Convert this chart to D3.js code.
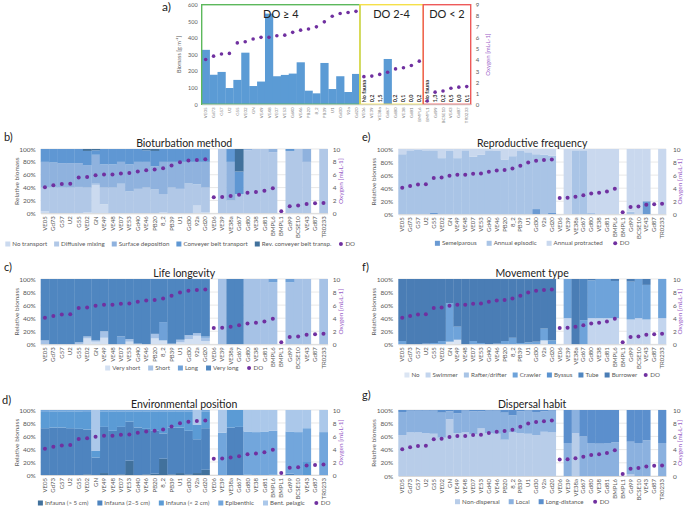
<!DOCTYPE html>
<html><head><meta charset="utf-8">
<script src="https://cdn.jsdelivr.net/npm/d3@7"></script>
<style>body{margin:0;background:#fff}svg{display:block}text{font-family:Lato,"Open Sans",sans-serif}</style>
</head><body><svg id="chart" width="685" height="508"></svg>
<script>
// ---------------- DATA ----------------
const stations = ["VE05","Gd73","G57","U2","G55","VE02","GN","VE49","VE48","VE07","VE53","Gd40","VE46","PB20","8_2","PB39","U1","Gd30","92a","Gd20",
  "VE06","VE39","VE38a","Gd67","Gd80","VE38","Gd81","BMPL6",
  "BMPL1","Gd99","BCSE10","VE43","Gd87","TR0233"];
const dissolvedO2 = [4.05,4.35,4.55,4.6,5.55,5.65,5.9,6.05,6.05,6.2,6.25,6.5,6.7,6.8,7.0,7.45,7.95,8.2,8.3,8.4,
  2.5,2.55,2.7,2.9,3.2,3.3,3.5,3.9, 0.3,1.1,1.2,1.45,1.55,1.6];
const biomass = [328,178,195,98,147,311,110,137,546,169,177,185,253,82,66,249,92,169,74,183,
  0,0.2,1.5,273,0.2,0.1,0.0,0.2, 0,1.3,0.2,0.5,0.0,0.1];
const biomassNote = ["","","","","","","","","","","","","","","","","","","","",
  "No fauna","0,2","1,5","","0,2","0,1","0,0","0,2","No fauna","1,3","0,2","0,5","0,0","0,1"];
const doGroups = ["DO \u2265 4","DO 2-4","DO < 2"];
const groupSizes = [20,8,6];
const biomassTicks = [0,100,200,300,400,500,600];
const oxygenTicksA = [0,1,2,3,4,5,6,7,8,9];
const pctTicks = [0,20,40,60,80,100];
const oxygenTicks = [0,2,4,6,8,10];

// b) Bioturbation method
const bioturbNames = ["No transport","Diffusive mixing","Surface deposition","Conveyer belt transport","Rev. conveyer belt transp."];
const bioNoTransport = [3,0,0,0,0,2,44,14,0,0,0,0,0,0,2,0,0,0,12,2, 0,0,0,0,0,0,0,0, 0,0,0,0,0,0];
const bioDiffusive   = [37,40,40,40,41,38,2,26,40,46,34,38,40,37,28,40,38,47,33,38, 0,100,20,30,98,100,100,95, 0,97,100,80,0,100];
const bioSurface     = [40,39,38,38,37,35,45,36,36,34,42,42,40,36,50,40,42,33,35,40, 0,0,60,0,2,0,0,5, 0,0,0,20,0,0];
const bioConveyor    = [20,21,22,22,22,22,7,24,24,20,24,20,18,24,20,20,20,20,20,20, 0,0,20,35,0,0,0,0, 0,3,0,0,0,0];
const bioRevConveyor = [0,0,0,0,0,3,2,0,0,0,0,0,2,3,0,0,0,0,0,0, 0,0,0,35,0,0,0,0, 0,0,0,0,0,0];

// c) Life longevity
const lifeNames = ["Very short","Short","Long","Very long"];
const lifeVeryShort = [0,0,0,0,0,9,4,10,0,0,4,0,0,9,6,0,3,8,13,5, 0,0,0,0,0,0,0,0, 0,0,0,0,0,0];
const lifeShort     = [6,0,0,0,3,3,2,10,0,0,4,1,0,7,0,1,4,6,4,5, 0,100,0,0,100,100,100,95, 0,95,100,100,0,100];
const lifeLong      = [0,0,0,0,0,0,0,0,0,12,0,0,0,0,28,0,0,0,0,2, 0,0,0,0,0,0,0,5, 0,5,0,0,0,0];
const lifeVeryLong  = [94,100,100,100,97,88,94,80,100,88,92,99,100,84,66,99,93,86,83,88, 0,0,100,100,0,0,0,0, 0,0,0,0,0,0];

// d) Environmental position
const envNames = ["Infauna (> 5 cm)","Infauna (2\u20135 cm)","Infauna (< 2 cm)","Epibenthic","Bent. pelagic"];
const envDeep    = [0,0,0,0,0,1,0,3,0,1,22,0,1,2,25,1,3,1,3,8, 0,0,0,0,0,0,0,0, 0,0,0,0,0,0];
const envMid     = [72,73,73,72,71,69,27,71,68,73,60,73,70,66,39,72,70,67,52,64, 0,0,73,74,0,0,0,0, 0,2,0,0,0,0];
const envShallow = [25,25,25,26,27,27,10,24,30,24,16,25,27,30,34,25,25,30,22,26, 0,0,27,26,1,0,0,1, 0,0,0,20,0,0];
const envEpi     = [3,2,2,2,2,3,0,2,2,2,2,2,2,2,2,2,2,2,0,2, 0,65,0,0,66,66,67,67, 0,65,66,52,0,66];
const envPelagic = [0,0,0,0,0,0,63,0,0,0,0,0,0,0,0,0,0,0,23,0, 0,35,0,0,33,34,33,32, 0,33,34,28,0,34];

// e) Reproductive frequency
const reproNames = ["Semelparous","Annual episodic","Annual protracted"];
const reproSemel = [0,0,0,0,2,0,0,0,0,0,0,0,0,0,0,0,0,8,0,2, 0,0,0,0,0,0,0,0, 0,0,0,20,0,0];
const reproEpis  = [92,98,99,98,96,86,97,86,98,88,91,98,97,84,89,97,95,84,91,88, 0,0,98,98,2,0,0,0, 0,4,0,0,0,0];
const reproProt  = [8,2,1,2,2,14,3,14,2,12,9,2,3,16,11,3,5,8,9,10, 0,100,2,2,98,100,100,100, 0,96,100,80,0,100];

// f) Movement type
const moveNames = ["No","Swimmer","Rafter/drifter","Crawler","Byssus","Tube","Burrower"];
const moveNo      = [0,0,0,0,0,0,4,7,0,0,0,0,0,0,0,0,0,0,6,0, 0,0,0,0,0,0,0,0, 0,0,0,0,0,0];
const moveSwim    = [0,0,0,0,0,0,0,0,0,0,0,0,0,0,0,0,0,0,0,0, 0,40,0,0,40,40,40,40, 0,38,40,38,0,40];
const moveRaft    = [0,0,0,0,0,0,0,0,0,0,0,0,0,0,0,0,0,0,0,0, 0,0,0,0,0,0,0,0, 0,0,0,0,0,0];
const moveCrawl   = [5,0,0,1,2,5,59,20,0,5,2,0,1,5,10,2,3,4,18,6, 0,60,0,37,58,60,60,57, 0,58,60,53,0,60];
const moveByssus  = [0,0,0,0,0,0,0,0,0,0,0,0,0,0,0,0,0,0,0,0, 0,0,0,0,0,0,0,0, 0,0,0,0,0,0];
const moveTube    = [0,0,0,0,0,0,0,0,0,0,0,0,0,0,0,0,0,0,0,0, 0,0,0,63,0,0,0,0, 0,0,0,0,0,0];
const moveBurrow  = [95,100,100,99,98,95,37,73,100,95,98,100,99,95,90,98,97,96,76,94, 0,0,100,0,2,0,0,3, 0,4,0,9,0,0];

// g) Dispersal habit
const dispNames = ["Non-dispersal","Local","Long-distance"];
const dispNone  = [62,66,66,65,64,58,86,65,66,63,72,65,64,55,66,65,64,62,67,66, 0,0,65,0,0,0,0,0, 0,3,0,0,0,0];
const dispLocal = [35,33,33,34,35,38,12,30,33,35,26,34,35,41,26,33,35,35,31,33, 0,50,35,60,50,49,50,51, 0,49,50,54,0,50];
const dispLong  = [3,1,1,1,1,4,2,5,1,2,2,1,1,4,8,2,1,3,2,1, 0,50,0,40,50,51,50,49, 0,48,50,46,0,50];

// ---------------- DRAWING ----------------
const svg = d3.select("#chart");
const PURPLE = "#7030a0", TXT = "#595959";

// ----- Panel a -----
(function(){
  const L=201.7,R=470.7,T=4.7,B=104.3;
  const x = d3.scaleBand().domain(stations).range([L,R]).padding(0);
  const y = d3.scaleLinear().domain([0,600]).range([B,T]);
  const yo = d3.scaleLinear().domain([0,9]).range([B,T]);
  const g = svg.append("g");
  g.selectAll("rect.bar").data(stations).join("rect")
    .attr("x",d=>x(d)).attr("width",x.bandwidth()+0.3)
    .attr("y",(d,i)=>y(biomass[i])).attr("height",(d,i)=>B-y(biomass[i]))
    .attr("fill","#5b9bd5");
  const boxColors=["#5cb85c","#f5e04a","#ee5a5a"];
  let start=0;
  groupSizes.forEach((n,gi)=>{
    const x0=x(stations[start]), x1=x(stations[start+n-1])+x.bandwidth();
    g.append("rect").attr("x",x0).attr("y",T).attr("width",x1-x0).attr("height",B-T)
      .attr("fill","none").attr("stroke",boxColors[gi]).attr("stroke-width",1.4);
    g.append("text").attr("x",(x0+x1)/2).attr("y",T+13).attr("text-anchor","middle")
      .attr("font-size",11).attr("fill","#222").text(doGroups[gi]);
    start+=n;
  });
  g.selectAll("text.note").data(stations).join("text")
    .attr("transform",d=>`translate(${x(d)+x.bandwidth()/2},${B-2}) rotate(-90)`)
    .attr("dy","0.35em").attr("font-size",5.5).attr("font-weight","bold").attr("fill","#333")
    .text((d,i)=>biomassNote[i]);
  g.selectAll("circle").data(stations).join("circle")
    .attr("cx",d=>x(d)+x.bandwidth()/2).attr("cy",(d,i)=>yo(dissolvedO2[i])).attr("r",1.8).attr("fill",PURPLE);
  const ax = g.append("g").attr("transform",`translate(${L},0)`)
    .call(d3.axisLeft(y).tickValues(biomassTicks).tickSize(0).tickPadding(4));
  ax.select(".domain").remove();
  ax.selectAll("text").attr("font-size",5.5).attr("fill",TXT).attr("font-family","Lato");
  const ar = g.append("g").attr("transform",`translate(${R},0)`)
    .call(d3.axisRight(yo).tickValues(oxygenTicksA).tickSize(0).tickPadding(5));
  ar.select(".domain").remove();
  ar.selectAll("text").attr("font-size",6).attr("fill",TXT).attr("font-family","Lato");
  const axb = g.append("g").attr("transform",`translate(0,${B})`)
    .call(d3.axisBottom(x).tickSize(0));
  axb.select(".domain").attr("stroke","#d0d0d0");
  axb.selectAll("text").attr("transform","rotate(-90)").attr("x",-3).attr("y",0).attr("dy","0.35em")
    .attr("text-anchor","end").attr("font-size",4.5).attr("fill","#808080").attr("font-family","Lato");
  g.append("text").attr("transform",`translate(181,${(T+B)/2}) rotate(-90)`).attr("text-anchor","middle")
    .attr("font-size",5.5).attr("fill",TXT).text("Biomass [g m\u207B\u00B2]");
  g.append("text").attr("transform",`translate(490,${(T+B)/2}) rotate(-90)`).attr("text-anchor","middle")
    .attr("font-size",6).attr("fill","#9a60c8").text("Oxygen [mL\u00B7L-1]");
  g.append("text").attr("x",162).attr("y",11).attr("font-size",12).attr("fill","#222").text("a)");
})();

// ----- trait panels -----
function traitPanel(p){
  const g = svg.append("g");
  const x = d3.scaleBand().domain(stations).range([p.left,p.right]).padding(0);
  const y = d3.scaleLinear().domain([0,100]).range([p.bottom,p.top]);
  const yo = d3.scaleLinear().domain([0,10]).range([p.bottom,p.top]);
  g.selectAll("line.grid").data(pctTicks).join("line")
    .attr("x1",p.left).attr("x2",p.right).attr("y1",d=>y(d)).attr("y2",d=>y(d))
    .attr("stroke","#d9d9d9").attr("stroke-width",0.6);
  const rows = stations.map((s,i)=>{const r={station:s}; p.series.forEach((arr,k)=>r[p.names[k]]=arr[i]); return r;});
  const stacked = d3.stack().keys(p.names)(rows);
  g.selectAll("g.layer").data(stacked).join("g").attr("fill",(d,i)=>p.colors[i])
    .selectAll("rect").data(d=>d).join("rect")
    .attr("x",d=>x(d.data.station)).attr("width",x.bandwidth()+0.3)
    .attr("y",d=>y(d[1])).attr("height",d=>Math.max(0,y(d[0])-y(d[1])));
  g.selectAll("circle").data(stations).join("circle")
    .attr("cx",d=>x(d)+x.bandwidth()/2).attr("cy",(d,i)=>yo(dissolvedO2[i])).attr("r",2).attr("fill",PURPLE);
  const al = g.append("g").attr("transform",`translate(${p.left},0)`)
    .call(d3.axisLeft(y).tickValues(pctTicks).tickFormat(d=>d+"%").tickSize(0).tickPadding(5));
  al.select(".domain").remove();
  al.selectAll("text").attr("font-size",6.5).attr("fill",TXT).attr("font-family","Lato");
  const ar = g.append("g").attr("transform",`translate(${p.right},0)`)
    .call(d3.axisRight(yo).tickValues(oxygenTicks).tickSize(0).tickPadding(p.rpad));
  ar.select(".domain").remove();
  ar.selectAll("text").attr("font-size",6.5).attr("fill",TXT).attr("font-family","Lato");
  const ab = g.append("g").attr("transform",`translate(0,${p.bottom})`).call(d3.axisBottom(x).tickSize(0));
  ab.select(".domain").attr("stroke","#d9d9d9");
  ab.selectAll("text").attr("transform","rotate(-90)").attr("x",-3).attr("y",0).attr("dy","0.35em")
    .attr("text-anchor","end").attr("font-size",6).attr("fill",TXT).attr("font-family","Lato");
  g.append("text").attr("x",(p.left+p.right)/2).attr("y",p.top-2).attr("text-anchor","middle")
    .attr("font-size",10.5).attr("fill","#222").text(p.title);
  g.append("text").attr("x",p.lx).attr("y",p.ly).attr("font-size",11).attr("fill","#222").text(p.letter);
  g.append("text").attr("transform",`translate(${p.left-22},${(p.top+p.bottom)/2}) rotate(-90)`)
    .attr("text-anchor","middle").attr("font-size",6.5).attr("fill",TXT).text("Relative biomass");
  g.append("text").attr("transform",`translate(${p.oxX},${(p.top+p.bottom)/2}) rotate(-90)`)
    .attr("text-anchor","middle").attr("font-size",6.5).attr("fill","#9a60c8").text("Oxygen [mL\u00B7L-1]");
  // legend: auto layout centred on plot
  const items = p.names.map((n,i)=>({name:n,color:p.colors[i],dot:false})).concat([{name:"DO",color:PURPLE,dot:true}]);
  const lg = g.append("g");
  let cx = 0;
  const gap = p.legGap || 8;
  items.forEach((it)=>{
    const ig = lg.append("g").attr("transform",`translate(${cx},0)`);
    if(it.dot) ig.append("circle").attr("cx",2.5).attr("cy",p.legY).attr("r",2).attr("fill",it.color);
    else ig.append("rect").attr("x",0).attr("y",p.legY-2.5).attr("width",5).attr("height",5).attr("fill",it.color);
    const t = ig.append("text").attr("x",7).attr("y",p.legY).attr("dy","0.35em").attr("font-size",6.2).attr("fill",TXT).text(it.name);
    cx += 7 + t.node().getComputedTextLength() + gap;
  });
  const total = cx - gap;
  lg.attr("transform",`translate(${(p.left+p.right)/2 - total/2 + (p.legShift||0)},0)`);
}

const LEFT={left:40.7,right:327.7,oxX:343,rpad:5};
const RIGHT={left:398.3,right:666,oxX:682,rpad:7};

traitPanel({...LEFT,top:149,bottom:213.3,title:"Bioturbation method",letter:"b)",lx:4,ly:141,
  names:bioturbNames,series:[bioNoTransport,bioDiffusive,bioSurface,bioConveyor,bioRevConveyor],
  colors:["#cbdaef","#b1c8e7","#8fb2de","#5f97d3","#41719c"],legY:244,legGap:7,legShift:-4});
traitPanel({...LEFT,top:279,bottom:344.3,title:"Life longevity",letter:"c)",lx:4,ly:271,
  names:lifeNames,series:[lifeVeryShort,lifeShort,lifeLong,lifeVeryLong],
  colors:["#d3e0f2","#a6c2e6","#6fa1d8","#4f86c0"],legY:368});
traitPanel({...LEFT,top:410,bottom:475,title:"Environmental position",letter:"d)",lx:2,ly:404,
  names:envNames,series:[envDeep,envMid,envShallow,envEpi,envPelagic],
  colors:["#41719c","#4e84bf","#5b9bd5","#72a6dc","#abc8ea"],legY:503,legGap:9});
traitPanel({...RIGHT,top:149,bottom:214.3,title:"Reproductive frequency",letter:"e)",lx:362,ly:141,
  names:reproNames,series:[reproSemel,reproEpis,reproProt],
  colors:["#6a9ad3","#a9c4e6","#c9d8ee"],legY:243.3,legGap:10});
traitPanel({...RIGHT,top:279,bottom:344.3,title:"Movement type",letter:"f)",lx:362,ly:271,
  names:moveNames,series:[moveNo,moveSwim,moveRaft,moveCrawl,moveByssus,moveTube,moveBurrow],
  colors:["#dbe5f3","#c3d5ee","#a8c4e6","#6ea3da","#5a93d0","#4f86c0","#4a7db5"],legY:375,legGap:6});
traitPanel({...RIGHT,top:410,bottom:476,title:"Dispersal habit",letter:"g)",lx:362,ly:399,
  names:dispNames,series:[dispNone,dispLocal,dispLong],
  colors:["#b8cde9","#8bb1df","#5b8fcd"],legY:501.7,legGap:9});
</script></body></html>
